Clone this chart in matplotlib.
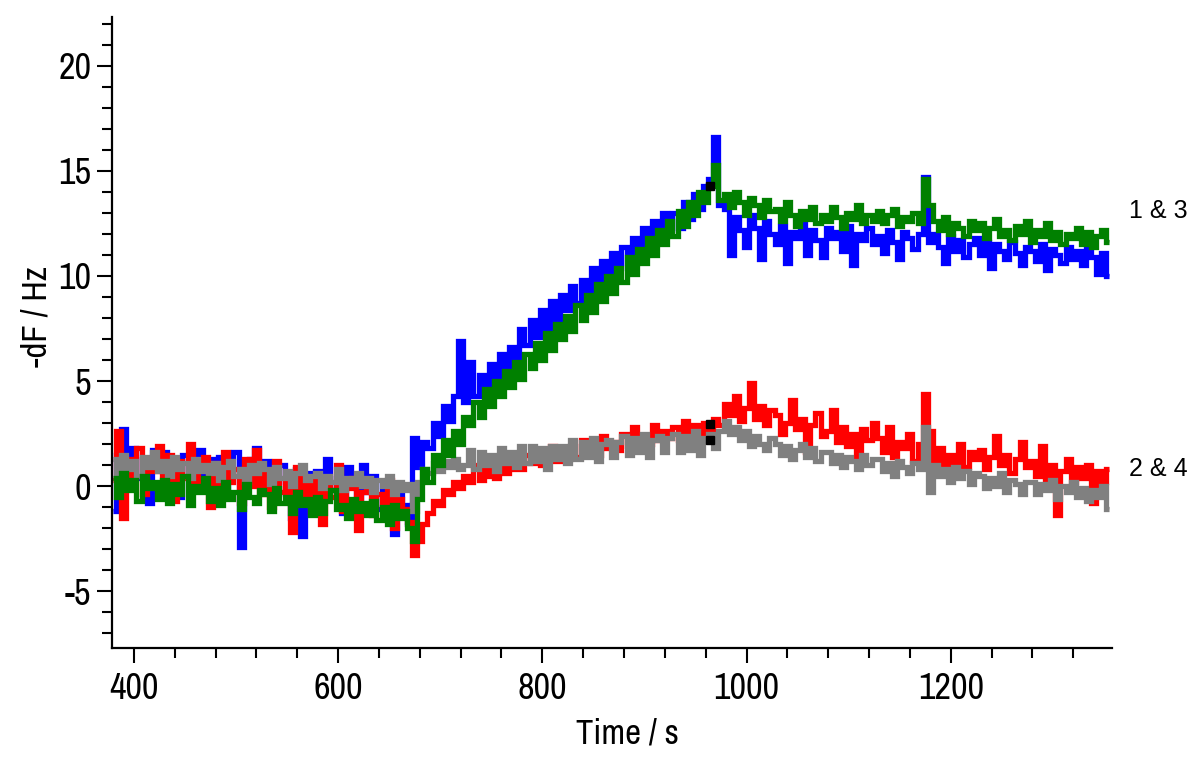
import numpy as np
import matplotlib
matplotlib.use("Agg")
import matplotlib.pyplot as plt
from matplotlib import font_manager
from matplotlib.font_manager import FontProperties
from matplotlib.ticker import MultipleLocator

plt.rcParams["axes.unicode_minus"] = False

# sampled every 5 s starting at 380 s
T0, DT = 380, 5

blue = [
    -1.2, 1.5, 2.7, 0.6, 1.8, 0.4, 1.3, -0.8, 1.7, 0.9,
    1.6, 0.3, 1.2, -0.5, 1.5, 0.7, 1.1, 1.7, 0.2, 1.3,
    0.9, 1.4, -0.3, 0.8, 1.6, -2.9, 0.5, 1.3, 1.8, 0.4,
    1.2, 0.5, -0.4, 1.0, 0.2, -1.5, 0.8, -2.4, 0.6, 0.1,
    0.7, -0.6, 1.3, -0.2, 0.4, -1.3, 0.9, 0.0, -0.8, 1.0,
    -0.3, 0.5, -1.1, 0.2, -0.6, -2.3, -0.1, -0.9, -1.8, 2.3,
    0.9, 2.1, 1.8, 3.0, 2.4, 3.8, 3.1, 4.3, 6.9, 4.0,
    5.9, 4.3, 5.3, 4.7, 5.8, 5.0, 6.3, 5.4, 6.6, 5.8,
    7.5, 6.7, 7.9, 7.1, 8.4, 7.5, 8.8, 7.8, 9.1, 8.4,
    9.5, 8.7, 9.8, 9.2, 10.4, 9.5, 10.7, 9.9, 11.1, 10.4,
    11.4, 10.6, 11.8, 11.0, 12.3, 11.4, 12.6, 11.9, 13.0, 12.2,
    13.0, 12.3, 13.5, 12.7, 13.9, 13.2, 14.3, 14.6, 16.6, 13.4,
    13.2, 11.0, 12.8, 12.2, 11.4, 12.9, 12.3, 10.8, 12.6, 12.0,
    11.5, 12.4, 10.6, 12.1, 11.8, 12.5, 11.0, 12.2, 11.7, 10.9,
    12.3, 11.8, 12.1, 11.2, 12.4, 10.5, 12.0, 11.7, 12.3, 11.5,
    11.9, 11.1, 12.2, 11.6, 10.8, 12.1, 11.8, 11.3, 12.0, 14.7,
    11.6, 12.0, 11.4, 10.6, 11.9, 11.2, 11.7, 10.9, 11.5, 11.8,
    11.0, 11.6, 10.4, 11.5, 11.2, 10.8, 11.6, 11.1, 10.5, 11.4,
    11.2, 10.7, 11.5, 10.3, 11.3, 11.0, 10.6, 11.4, 10.8, 11.2,
    10.5, 11.3, 10.9, 10.1, 11.1, 10.0,
]

green = [
    0.4, -0.5, 0.6, -0.2, 0.3, -0.7, 0.5, -0.1, 0.2, -0.6,
    0.3, -0.8, 0.1, -0.4, 0.5, -0.9, 0.0, -0.3, 0.4, -0.7,
    -0.1, -0.9, 0.2, -0.6, -0.3, -1.1, 0.1, -0.5, -0.8, -0.2,
    -0.4, -1.2, -0.1, -0.8, -0.5, -1.3, -0.3, -0.9, -0.6, -1.4,
    -0.5, -1.3, -0.7, -0.2, -1.1, -0.9, -1.5, -0.6, -1.2, -0.8,
    -1.4, -0.7, -1.6, -1.0, -1.8, -0.9, -1.5, -1.2, -2.0, -2.6,
    -0.6, 0.8, 0.2, 1.5, 1.0, 2.2, 1.5, 2.6, 2.0, 3.3,
    2.9, 4.0, 3.3, 4.6, 3.8, 5.0, 4.3, 5.5, 4.7, 5.9,
    5.1, 6.3, 5.6, 6.8, 6.0, 7.3, 6.5, 7.7, 7.0, 8.1,
    7.4, 8.6, 7.9, 9.1, 8.3, 9.6, 8.8, 10.0, 9.2, 10.4,
    9.7, 10.9, 10.1, 11.3, 10.6, 11.8, 11.0, 12.2, 11.5, 12.6,
    11.9, 13.1, 12.4, 13.5, 12.9, 14.0, 13.5, 14.3, 15.3, 13.6,
    13.9, 13.3, 14.0, 13.5, 12.9, 13.7, 13.4, 12.8, 13.6, 13.1,
    13.2, 12.6, 13.5, 12.9, 12.4, 13.1, 12.7, 13.3, 12.5, 12.9,
    12.6, 13.3, 12.8, 12.3, 13.0, 12.7, 13.4, 12.5, 12.9, 12.6,
    13.1, 12.5, 12.9, 13.2, 12.4, 12.8, 12.6, 13.0, 12.5, 14.6,
    13.4, 12.6, 12.2, 12.8, 12.0, 12.5, 12.3, 11.9, 12.6, 12.2,
    12.5, 11.8, 12.3, 12.7, 11.9, 12.2, 11.7, 12.4, 12.0, 12.6,
    11.6, 12.2, 11.9, 12.5, 11.7, 12.1, 11.5, 12.0, 11.8, 12.3,
    11.5, 12.1, 11.4, 11.9, 12.2, 11.6,
]

red = [
    0.3, 2.6, -1.5, 1.3, 0.5, 1.8, -0.4, 1.1, 0.7, 1.9,
    0.2, 1.5, -0.7, 1.2, 0.4, 2.0, -0.2, 0.9, 1.4, -1.0,
    1.1, -0.3, 1.6, 0.2, 0.8, -0.8, 1.3, 0.0, 1.7, -0.4,
    0.6, -1.0, 1.2, -0.3, 0.4, -2.2, 0.9, -0.6, 0.3, -1.3,
    0.5, -1.8, 0.2, -0.5, 1.0, -1.2, -0.1, 0.4, -2.1, -0.3,
    0.1, -1.4, -0.4, -0.9, 0.3, -2.0, -0.6, -1.1, -1.7, -3.3,
    -2.6, -1.8, -1.3, -0.7, -0.9, -0.2, -0.4, 0.2, -0.1, 0.5,
    0.2, 1.0, 0.3, 1.2, 0.5, 0.4, 1.4, 0.6, 1.5, 0.8,
    0.8, 1.5, 1.1, 1.7, 1.0, 1.4, 1.9, 1.2, 1.6, 1.3,
    1.9, 1.4, 2.2, 1.6, 2.0, 1.5, 2.4, 1.8, 2.1, 1.7,
    2.5, 1.9, 2.8, 2.1, 2.4, 2.0, 2.9, 2.2, 2.6, 2.3,
    2.8, 2.2, 3.1, 2.5, 2.9, 2.4, 3.0, 2.7, 3.2, 2.9,
    3.9, 3.4, 4.3, 3.1, 3.7, 4.9, 3.2, 3.8, 2.9, 3.6,
    3.4, 2.5, 3.0, 4.1, 2.7, 3.2, 1.6, 2.9, 3.5, 2.4,
    2.6, 3.6, 2.1, 2.8, 1.9, 2.5, 1.3, 2.7, 2.2, 3.0,
    2.3, 1.6, 2.8, 1.4, 2.1, 1.8, 2.5, 1.2, 2.0, 4.4,
    2.6, 1.2, 1.8, 0.7, 1.5, 1.1, 2.0, 0.9, 1.6, 1.3,
    1.7, 0.8, 1.4, 2.4, 1.0, 1.5, 0.6, 1.3, 2.1, 0.9,
    1.2, 0.5, 1.9, 0.3, 1.0, -1.4, 0.7, 1.3, 0.2, 0.9,
    0.4, 1.0, -0.8, 0.7, 0.2, 0.8,
]

gray = [
    1.3, 0.6, 1.5, 0.8, 1.2, 0.5, 1.4, 0.9, 1.6, 0.7,
    1.2, 0.5, 1.4, 0.8, 1.1, 0.4, 1.3, 0.7, 1.0, 0.6,
    1.1, 0.3, 0.9, 1.2, 0.5, 0.8, 0.2, 1.0, 0.6, 1.1,
    0.8, 0.1, 0.9, 0.4, 0.7, 0.0, 0.6, 1.0, 0.3, 0.5,
    0.6, -0.1, 0.5, 0.2, 0.8, -0.2, 0.4, 0.1, 0.6, 0.0,
    0.4, -0.3, 0.3, 0.0, 0.5, -0.4, 0.2, -0.2, 0.1, -1.2,
    0.2, 0.8, 0.6, 1.1, 0.7, 1.2, 0.9, 1.3, 0.8, 1.0,
    1.7, 0.8, 1.6, 1.0, 1.5, 0.7, 1.8, 1.1, 1.6, 0.9,
    1.9, 1.1, 1.9, 1.2, 1.8, 0.8, 1.9, 1.3, 1.9, 1.1,
    2.2, 1.3, 2.1, 1.4, 2.3, 1.2, 2.0, 2.2, 1.4, 2.1,
    2.4, 1.5, 2.3, 1.6, 2.5, 1.4, 2.2, 2.4, 1.6, 2.3,
    2.5, 1.6, 2.4, 1.7, 2.6, 1.5, 2.3, 2.5, 1.8, 2.6,
    3.1, 2.5, 2.8, 2.2, 2.6, 1.9, 2.4, 2.0, 1.7, 2.3,
    2.0, 1.5, 1.9, 1.3, 1.7, 2.0, 1.4, 1.8, 1.2, 1.6,
    1.6, 1.1, 1.5, 0.9, 1.4, 1.2, 0.8, 1.5, 1.0, 1.3,
    1.3, 0.7, 1.1, 0.5, 1.2, 0.9, 0.6, 1.1, 0.8, 2.8,
    -0.3, 1.0, 0.5, 0.8, 0.2, 0.9, 0.4, 0.7, 0.1, 0.6,
    0.5, -0.1, 0.4, 0.0, 0.6, -0.3, 0.3, 0.1, -0.4, 0.2,
    0.2, -0.4, 0.1, -0.2, 0.3, -0.6, 0.0, -0.3, 0.2, -0.5,
    -0.1, -0.7, -0.2, -0.5, 0.0, -1.1,
]

# black cursor marks
mark_t = [964, 964, 964]
mark_v = [14.3, 2.95, 2.2]

# trace labels at the right edge
group_labels = ["1 & 3", "2 & 4"]
group_y = [13.1, 0.8]

CONDENSED = ("condensed", "semi-condensed", "extra-condensed", "ultra-condensed")


def upright(f):
    return f.style == "normal" and f.weight in (400, "normal", "regular", "book")


def narrow_font():
    # an upright, regular-weight condensed sans face if one is installed
    faces = [f for f in font_manager.fontManager.ttflist if upright(f)]
    for key in ("Liberation Sans Narrow", "Narrow", "Condensed"):
        for f in faces:
            if key in f.name:
                return FontProperties(fname=f.fname), True
    for f in faces:
        if f.stretch in CONDENSED:
            return FontProperties(fname=f.fname), True
    return FontProperties(family="DejaVu Sans"), False


NARROW, found = narrow_font()
tick_size = 26 if found else 20
lab_size = 25 if found else 19
installed = {f.name for f in font_manager.fontManager.ttflist}
PLAIN = "Liberation Sans" if "Liberation Sans" in installed else "DejaVu Sans"

fig = plt.figure(figsize=(12, 7.64), dpi=100)
ax = fig.add_axes([0.0933, 0.1518, 0.8334, 0.8260])

for vals, col in [(blue, "#0000FF"), (red, "#FF0000"), (gray, "#808080"), (green, "#008000")]:
    t = T0 + DT * np.arange(len(vals))
    ax.plot(t, vals, color=col, lw=3.8, drawstyle="steps-mid",
            solid_joinstyle="miter", solid_capstyle="butt")

ax.plot(mark_t, mark_v, ls="none", marker="s", ms=6, color="black")

ax.set_xlim(378.5, 1358)
ax.set_ylim(-7.71, 22.33)

for s in ("top", "right"):
    ax.spines[s].set_visible(False)
for s in ("left", "bottom"):
    ax.spines[s].set_linewidth(1.6)

ax.xaxis.set_major_locator(MultipleLocator(200))
ax.xaxis.set_minor_locator(MultipleLocator(40))
ax.yaxis.set_major_locator(MultipleLocator(5))
ax.yaxis.set_minor_locator(MultipleLocator(1))
ax.tick_params(which="major", length=11, width=1.5, direction="out")
ax.tick_params(which="minor", length=7.5, width=1.5, direction="out")
ax.tick_params(axis="x", which="major", pad=6)
ax.tick_params(axis="y", which="major", pad=4)

for lab in ax.get_xticklabels() + ax.get_yticklabels():
    lab.set_fontproperties(NARROW)
    lab.set_fontsize(tick_size)

ax.set_xlabel("Time / s", fontproperties=NARROW, fontsize=lab_size)
ax.xaxis.label.set_va("center")
ax.xaxis.set_label_coords(0.515, -0.135)
ax.set_ylabel("-dF / Hz", fontproperties=NARROW, fontsize=lab_size)
ax.yaxis.label.set_va("center")
ax.yaxis.set_label_coords(-0.075, 0.526)

for txt, yv in zip(group_labels, group_y):
    ax.text(1375, yv, txt, fontfamily=PLAIN, fontsize=18, va="center", ha="left", clip_on=False)

fig.savefig("out.png", dpi=100, facecolor="white")
